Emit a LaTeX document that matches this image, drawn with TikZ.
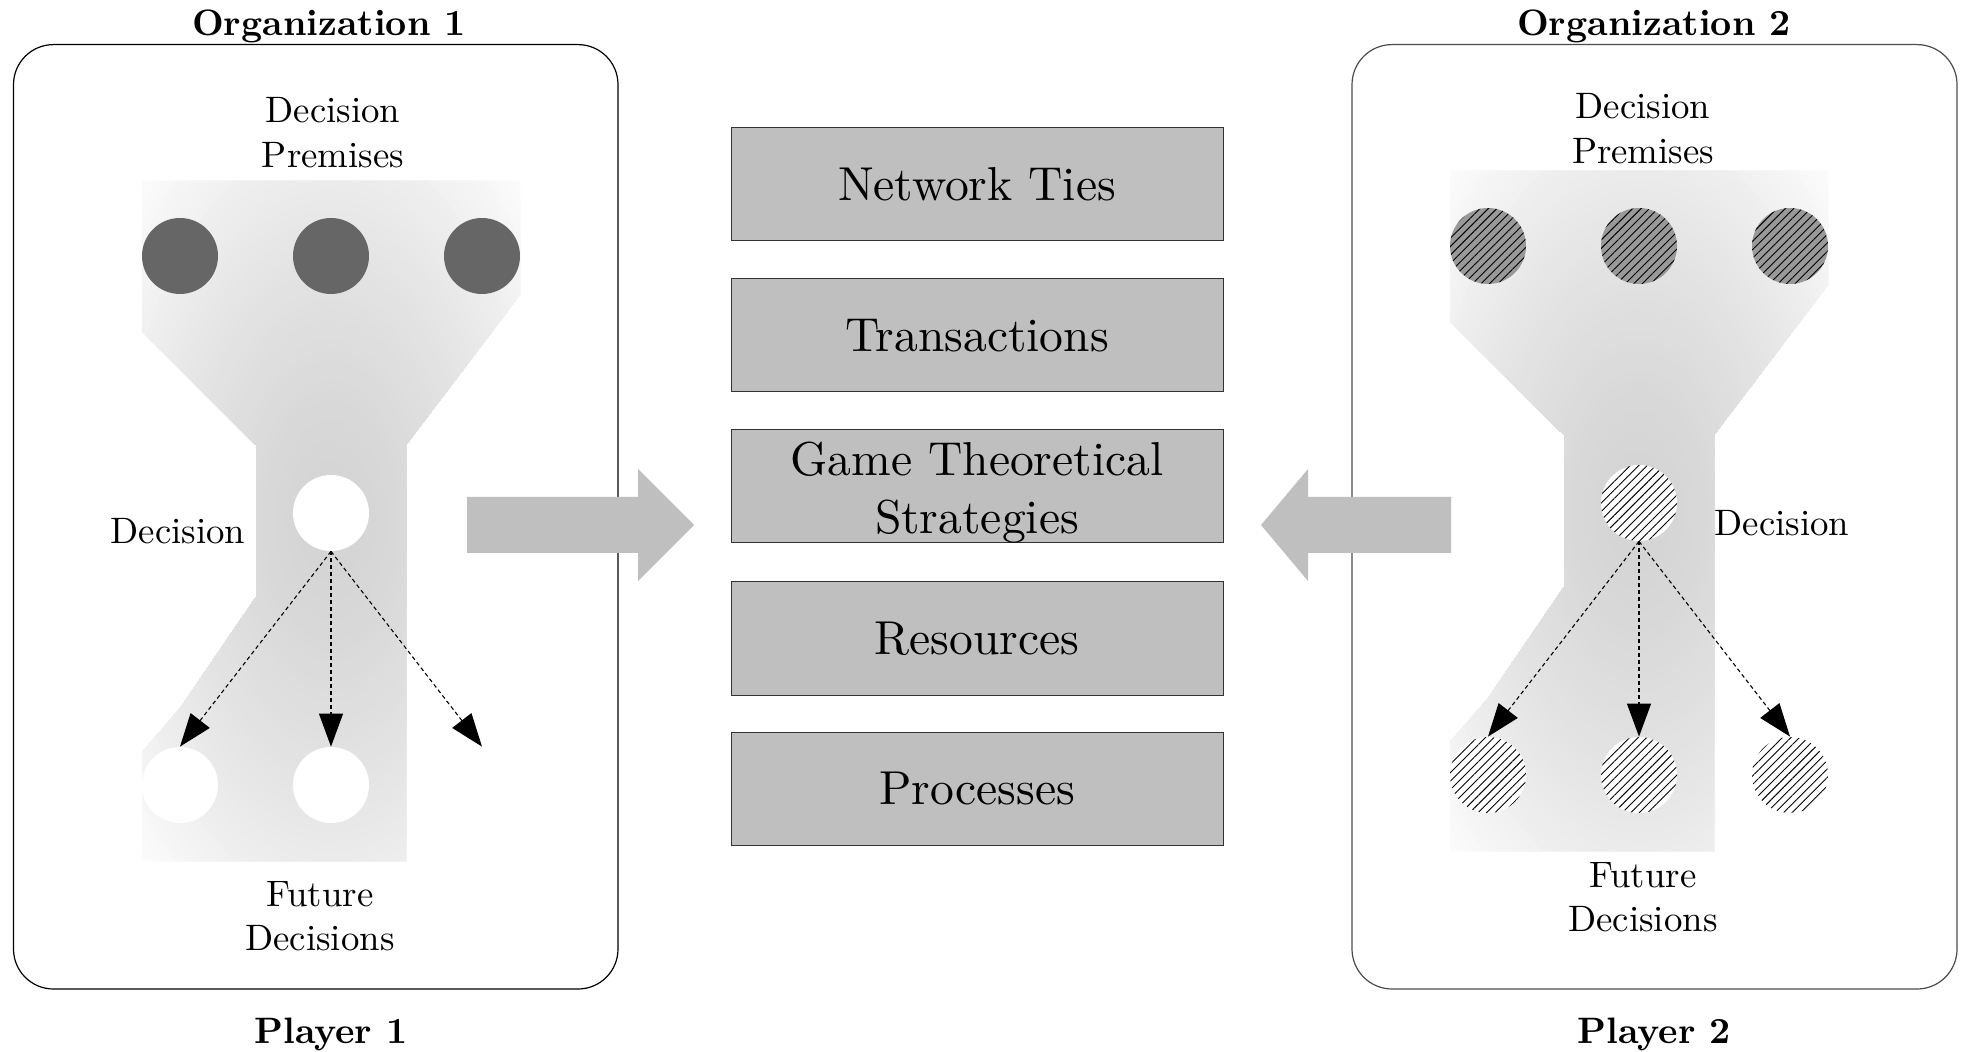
\documentclass[tikz,border=0pt]{standalone}
\usepackage{graphicx}
\usetikzlibrary{arrows.meta,patterns.meta}
\definecolor{gD}{gray}{0.985}
\definecolor{darkdot}{gray}{0.40}
\definecolor{middot}{gray}{0.60}
\definecolor{boxgray}{gray}{0.75}
\newcommand{\lbl}[1]{\scalebox{1.84}{\begin{tabular}[t]{@{}c@{}}#1\end{tabular}}}
\newcommand{\btxt}[1]{\scalebox{2.38}{\begin{tabular}[t]{@{}c@{}}#1\end{tabular}}}
\newcommand{\ttl}[1]{\scalebox{1.84}{\bfseries #1}}
\newcommand{\funnelpath}{(142,181) -- (520,181) -- (520,295) -- (406,445) -- (406,861) -- (142,861) -- (142,752) -- (180,708) -- (256,597) -- (256,445) -- (142,332) -- cycle}
\newcommand{\funnelfill}{%
  \fill[gD] (64,40) rectangle (598,1002);
  \foreach \i in {48,47,...,1}{%
    \pgfmathsetmacro{\tt}{\i/48}%
    \pgfmathsetmacro{\kk}{100*(1-(0.83+0.155*(\tt^1.5)))}%
    \fill[black!\kk] (331,521) ellipse [x radius={267*\tt}, y radius={481*\tt}];
  }}
\begin{document}
\begin{tikzpicture}[x=0.5pt,y=-0.5pt,
  orgbox/.style={line width=0.6pt,rounded corners=20pt},
  dotnode/.style={circle,minimum size=38pt,inner sep=0pt,draw=none},
  hatch/.style={pattern={Lines[angle=45,distance=3pt,line width=0.45pt]}},
  darr/.style={line width=0.55pt,dash pattern=on 2pt off 1.5pt,-{Triangle[length=16.5pt,width=12pt]}},
  cbox/.style={draw=black!80,line width=0.5pt,fill=boxgray,minimum width=246pt,minimum height=56.5pt,inner sep=0pt},
  bigarrow/.style={fill=boxgray},
  lab/.style={anchor=base,inner sep=0pt}]
\fill[white] (0,0) rectangle (1963,1052);
\useasboundingbox (0,0) rectangle (1963,1052);

% ---------- Organization 1 ----------
\draw[orgbox,draw=black] (13.5,44.6) rectangle (618,989);
\begin{scope}
  \clip \funnelpath;
  \funnelfill
\end{scope}
\node[dotnode,fill=darkdot] (p1a) at (180,256) {};
\node[dotnode,fill=darkdot] (p1b) at (331,256) {};
\node[dotnode,fill=darkdot] (p1c) at (482,256) {};
\node[dotnode,fill=white] (d1) at (331,513) {};
\node[dotnode,fill=white] (f1a) at (180,785) {};
\node[dotnode,fill=white] (f1b) at (331,785) {};
\node[dotnode,fill=white] (f1c) at (482,785) {};
\draw[darr] (d1.south) -- (f1a.north);
\draw[darr] (d1.south) -- (f1b.north);
\draw[darr] (d1.south) -- (f1c.north);
\node[lab] (dp1) at (333,123) {\lbl{Decision\\Premises}};
\node[lab] (dl1) at (178,544) {\lbl{Decision}};
\node[lab] (fd1) at (320,906) {\lbl{Future\\Decisions}};
\node[lab] (o1) at (329,36) {\ttl{Organization 1}};
\node[lab] (pl1) at (331,1043) {\ttl{Player 1}};

% ---------- Organization 2 ----------
\draw[orgbox,draw=black!70] (1352,44.6) rectangle (1957,989);
\begin{scope}[shift={(1308,-10)}]
  \clip \funnelpath;
  \funnelfill
\end{scope}
\node[dotnode,preaction={fill=middot},hatch] (p2a) at (1488,246) {};
\node[dotnode,preaction={fill=middot},hatch] (p2b) at (1639,246) {};
\node[dotnode,preaction={fill=middot},hatch] (p2c) at (1790,246) {};
\node[dotnode,preaction={fill=white},hatch] (d2) at (1639,503) {};
\node[dotnode,preaction={fill=white},hatch] (f2a) at (1488,775) {};
\node[dotnode,preaction={fill=white},hatch] (f2b) at (1639,775) {};
\node[dotnode,preaction={fill=white},hatch] (f2c) at (1790,775) {};
\draw[darr] (d2.south) -- (f2a.north);
\draw[darr] (d2.south) -- (f2b.north);
\draw[darr] (d2.south) -- (f2c.north);
\node[lab] (dp2) at (1643,119) {\lbl{Decision\\Premises}};
\node[lab] (dl2) at (1782,536) {\lbl{Decision}};
\node[lab] (fd2) at (1643,887) {\lbl{Future\\Decisions}};
\node[lab] (o2) at (1654,36) {\ttl{Organization 2}};
\node[lab] (pl2) at (1654,1043) {\ttl{Player 2}};

% ---------- central boxes ----------
\node[cbox,text height=16.3pt,text depth=0pt] (nt) at (977,184) {\btxt{Network Ties}};
\node[cbox,text height=16.3pt,text depth=0pt] (tr) at (977,335.5) {\btxt{Transactions}};
\node[cbox,text height=16.3pt,text depth=26.8pt] (gt) at (977,486.5) {\btxt{Game Theoretical\\Strategies}};
\node[cbox,text height=16.3pt,text depth=0pt] (rs) at (977,638.5) {\btxt{Resources}};
\node[cbox,text height=16.3pt,text depth=0pt] (pr) at (977,788.5) {\btxt{Processes}};

% ---------- big arrows ----------
\fill[bigarrow] (467,497) -- (638,497) -- (638,469) -- (694,525) -- (638,581) -- (638,553) -- (467,553) -- cycle;
\fill[bigarrow] (1451,497) -- (1308,497) -- (1308,469) -- (1261,525) -- (1308,581) -- (1308,553) -- (1451,553) -- cycle;
\end{tikzpicture}
\end{document}
